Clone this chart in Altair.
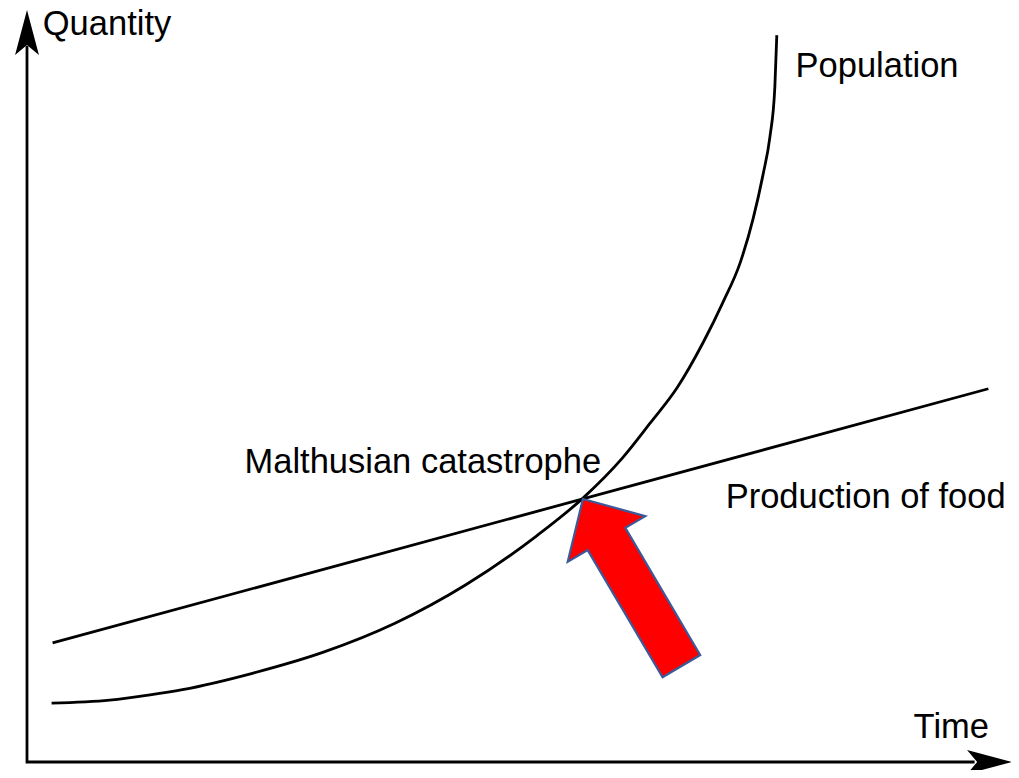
import altair as alt
import pandas as pd

# Data (conceptual units: time 0..10, quantity 0..10)
pop_time = [0.25, 0.84, 1.25, 1.58, 2.30, 3.02, 3.74, 4.46, 5.18, 5.65, 6.05, 6.33, 6.61,
            6.87, 7.07, 7.25, 7.38, 7.48, 7.55, 7.60, 7.62]
pop_qty = [0.78, 0.82, 0.89, 0.96, 1.18, 1.46, 1.84, 2.35, 3.00, 3.50, 4.03, 4.49, 4.97,
           5.56, 6.09, 6.63, 7.21, 7.79, 8.29, 8.95, 9.64]

food_time = [0.26, 9.77]
food_qty = [1.58, 4.95]

axis_time = [0.0, 0.0, 9.63]
axis_qty = [9.5, 0.0, 0.0]

label_text = ["Quantity", "Population", "Malthusian catastrophe", "Production of food", "Time"]
label_time = [0.16, 7.81, 2.21, 7.10, 9.01]
label_qty = [9.64, 9.08, 3.83, 3.37, 0.32]

catastrophe_time = [6.15]
catastrophe_qty = [2.38]

xs = alt.Scale(domain=[0, 10], nice=False, zero=False)
ys = alt.Scale(domain=[0, 10], nice=False, zero=False)

pop_df = pd.DataFrame({"t": pop_time, "q": pop_qty})
food_df = pd.DataFrame({"t": food_time, "q": food_qty})
axis_df = pd.DataFrame({"t": axis_time, "q": axis_qty, "o": list(range(len(axis_time)))})
lab_df = pd.DataFrame({"t": label_time, "q": label_qty, "label": label_text})
arrow_df = pd.DataFrame({"t": catastrophe_time, "q": catastrophe_qty})
yhead_df = pd.DataFrame({"t": [0.0], "q": [9.675]})
xhead_df = pd.DataFrame({"t": [9.782], "q": [0.0]})

X = lambda: alt.X("t:Q", scale=xs, axis=None)
Y = lambda: alt.Y("q:Q", scale=ys, axis=None)

axes = alt.Chart(axis_df).mark_line(color="black", strokeWidth=2.8, strokeJoin="miter").encode(
    x=X(), y=Y(), order="o:Q")

head_path = "M0,-1 L0.53,1 L0,0.55 L-0.53,1 Z"
yhead = alt.Chart(yhead_df).mark_point(shape=head_path, filled=True, fill="black", strokeWidth=0,
                                        size=2025, opacity=1).encode(x=X(), y=Y())
xhead = alt.Chart(xhead_df).mark_point(shape=head_path, filled=True, fill="black", strokeWidth=0,
                                        size=2025, opacity=1, angle=90).encode(x=X(), y=Y())

food = alt.Chart(food_df).mark_line(color="black", strokeWidth=2.8).encode(x=X(), y=Y())
pop = alt.Chart(pop_df).mark_line(color="black", strokeWidth=2.8, interpolate="monotone").encode(x=X(), y=Y())

arrow_path = "M0,-1 L0.464,-0.521 L0.225,-0.521 L0.225,1 L-0.225,1 L-0.225,-0.521 L-0.464,-0.521 Z"
arrow = alt.Chart(arrow_df).mark_point(shape=arrow_path, filled=True, fill="#ff0000", stroke="#3b5a9a",
                                        strokeWidth=2.2, size=37636, angle=329.5, opacity=1,
                                        fillOpacity=1, strokeOpacity=1).encode(x=X(), y=Y())

labels = alt.Chart(lab_df).mark_text(align="left", baseline="alphabetic", font="Liberation Sans",
                                     fontSize=34.5, color="black").encode(x=X(), y=Y(), text="label:N")

chart = alt.layer(axes, yhead, xhead, food, pop, arrow, labels).properties(
    width=984, height=754, autosize="none",
    padding={"left": 19, "top": 0, "right": 0, "bottom": 8},
    background="white",
).configure_view(stroke=None)

chart.save("out.html", embed_options={"renderer": "svg", "actions": False})
